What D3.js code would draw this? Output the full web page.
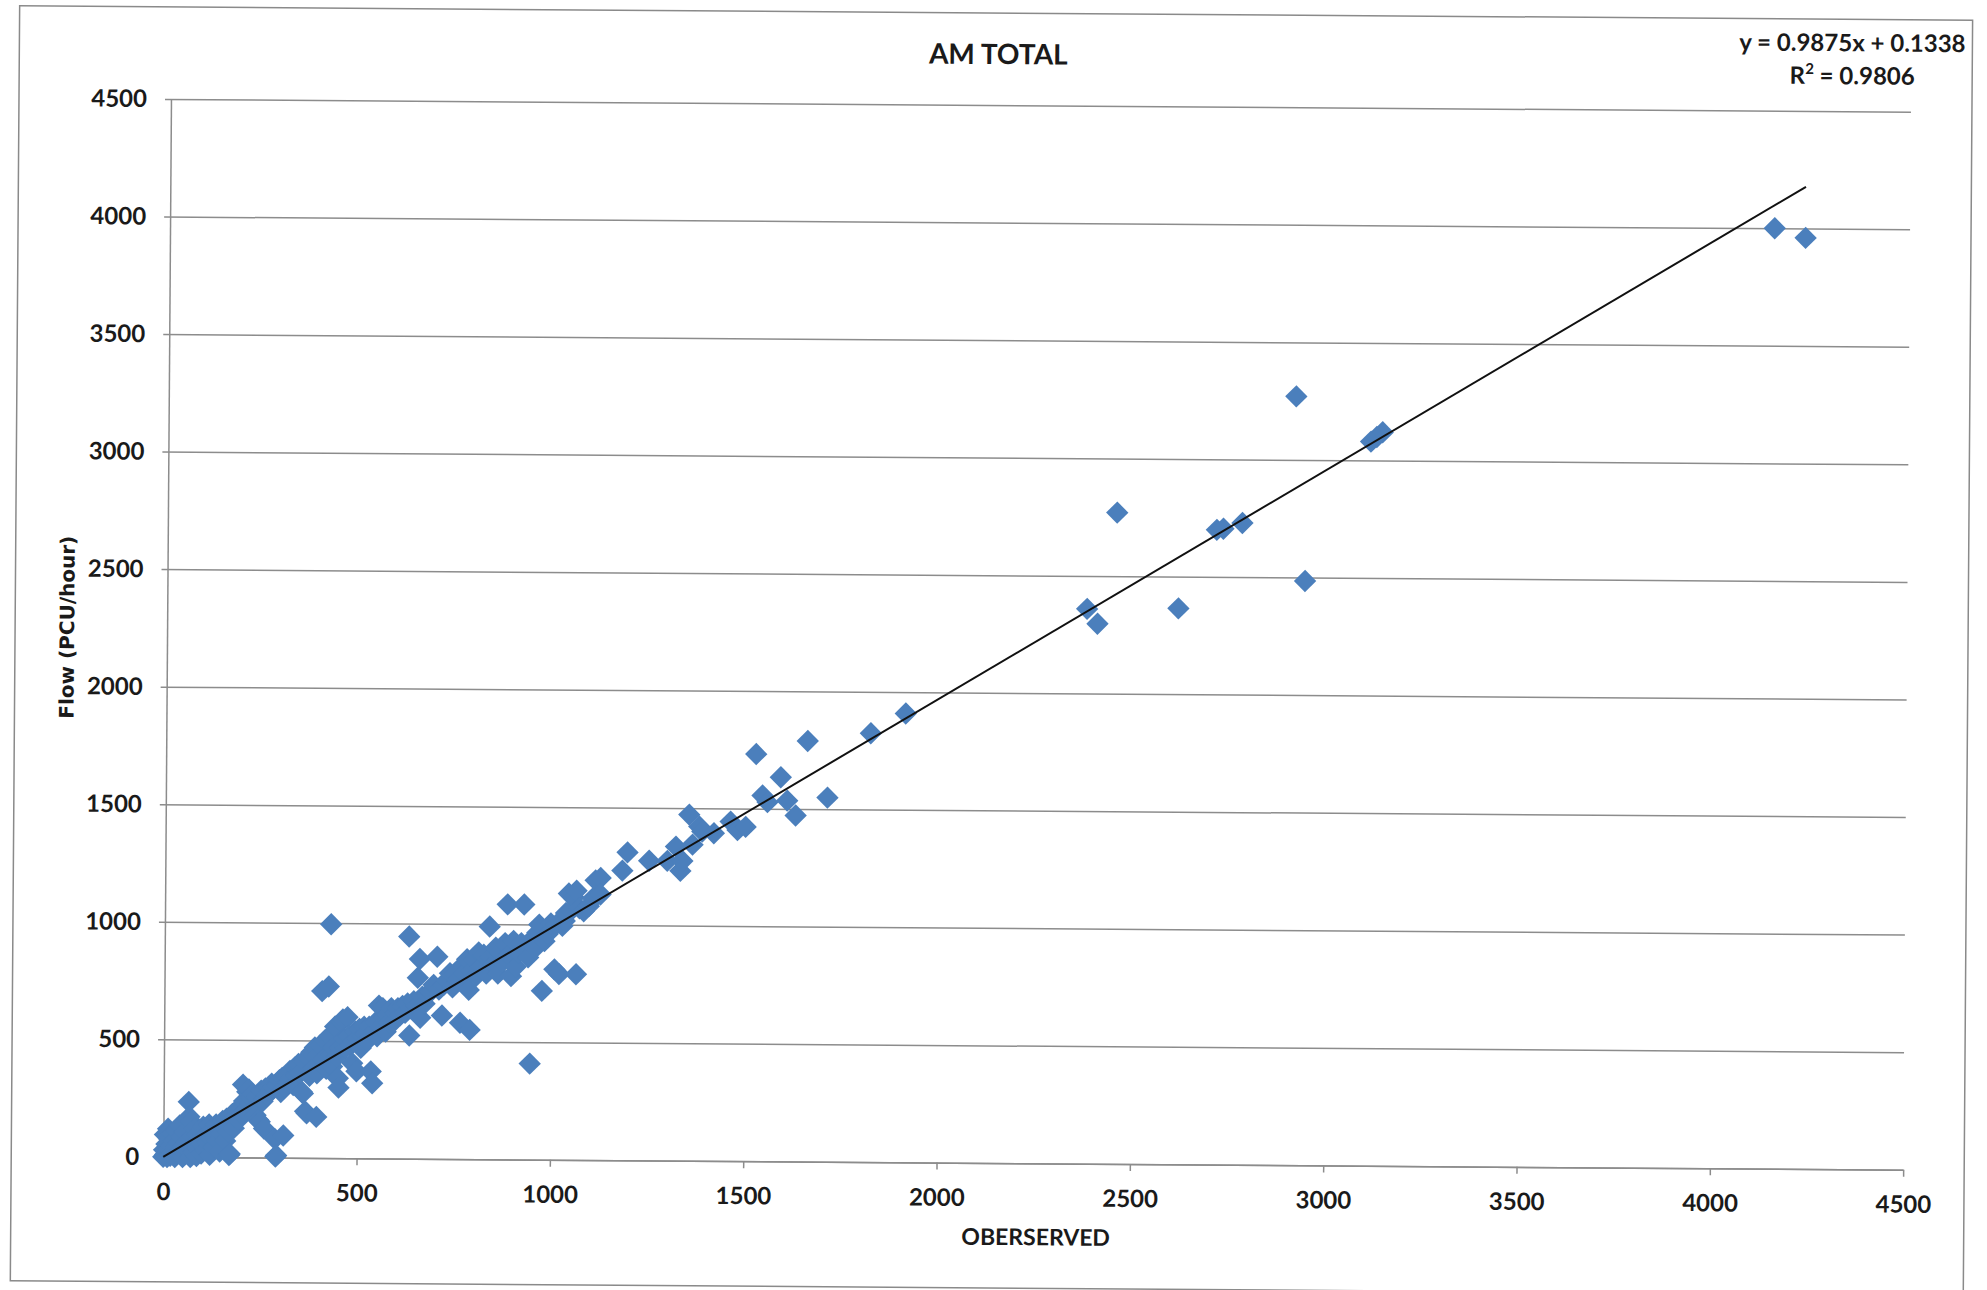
<!DOCTYPE html>
<html>
<head>
<meta charset="utf-8">
<script src="https://cdn.jsdelivr.net/npm/d3@7"></script>
<style>
  html, body { margin: 0; padding: 0; background: #fff; }
  svg { display: block; }
  .tick text { font-family: Lato, 'Open Sans', sans-serif; font-weight: 700; font-size: 24px; fill: #1a1a1a; }
</style>
</head>
<body>
<div id="chart"></div>
<script>
// observed vs modelled flow, [observed, modelled] in PCU/hour
const points = [
  [0, 0], [2, 30], [4, 95], [5, 10], [8, 55], [10, 0], [12, 120], [14, 35], [16, 75], [18, 5],
  [20, 50], [22, 100], [25, 20], [27, 70], [30, 0], [32, 40], [35, 110], [37, 15], [40, 60], [42, 135],
  [45, 25], [47, 85], [50, 0], [52, 45], [55, 105], [58, 15], [60, 65], [63, 30], [65, 235], [67, 172],
  [70, 0], [72, 151], [73, 50], [76, 90], [78, 20], [80, 120], [83, 60], [86, 5], [88, 95], [90, 35],
  [93, 75], [96, 110], [98, 15], [100, 55], [103, 130], [106, 85], [110, 30], [112, 100], [115, 65], [118, 140],
  [120, 10], [123, 80], [126, 115], [130, 45], [133, 95], [136, 140], [140, 70], [143, 120], [146, 25], [150, 100],
  [153, 155], [157, 130], [160, 70], [163, 165], [167, 110], [170, 10], [172, 15], [175, 150], [178, 185], [182, 125],
  [186, 175], [190, 200], [194, 160], [198, 215], [202, 185], [205, 310], [208, 240], [212, 200], [216, 280], [220, 290],
  [223, 230], [226, 255], [230, 270], [234, 210], [238, 180], [242, 260], [245, 160], [249, 153], [252, 285], [256, 240],
  [260, 124], [263, 295], [267, 265], [271, 300], [275, 280], [279, 315], [283, 300], [288, 80], [290, 5], [292, 10],
  [295, 310], [299, 330], [303, 280], [306, 340], [310, 95], [313, 300], [317, 345], [321, 320], [326, 370], [330, 340],
  [335, 310], [339, 385], [343, 350], [348, 400], [352, 360], [357, 282], [360, 275], [362, 410], [366, 198], [370, 190],
  [372, 430], [377, 350], [381, 450], [386, 380], [390, 470], [395, 175], [396, 360], [400, 440], [404, 480], [408, 710],
  [412, 420], [416, 500], [420, 380], [425, 730], [428, 520], [430, 995], [433, 440], [435, 390], [438, 470], [442, 560],
  [446, 430], [450, 340], [452, 300], [455, 470], [458, 580], [462, 590], [466, 510], [470, 470], [474, 600], [478, 520],
  [482, 480], [487, 405], [490, 500], [494, 540], [498, 370], [500, 510], [505, 550], [509, 470], [513, 520], [517, 560],
  [521, 530], [525, 500], [530, 560], [535, 370], [539, 320], [543, 540], [547, 580], [551, 520], [555, 650], [560, 560],
  [565, 640], [569, 600], [573, 540], [578, 610], [582, 580], [587, 640], [592, 580], [598, 620], [604, 640], [610, 610],
  [616, 650], [623, 620], [629, 660], [632, 945], [634, 524], [638, 640], [645, 670], [652, 650], [655, 770], [660, 850],
  [662, 600], [667, 690], [673, 660], [680, 700], [688, 710], [696, 740], [705, 860], [710, 720], [718, 610], [722, 740],
  [730, 760], [738, 790], [745, 730], [752, 790], [758, 760], [765, 580], [768, 820], [775, 790], [782, 850], [787, 720],
  [790, 550], [793, 800], [800, 850], [806, 780], [812, 880], [818, 820], [825, 870], [832, 790], [840, 990], [844, 860],
  [850, 830], [856, 900], [862, 790], [868, 880], [874, 840], [880, 920], [886, 1085], [890, 870], [896, 780], [902, 930],
  [908, 820], [915, 880], [922, 920], [929, 1085], [934, 890], [940, 860], [946, 408], [951, 940], [958, 900], [963, 965],
  [968, 1000], [976, 718], [982, 930], [990, 960], [998, 1005], [1008, 810], [1012, 1000], [1020, 790], [1028, 995], [1034, 1016],
  [1037, 1050], [1044, 1133], [1050, 1060], [1057, 1117], [1064, 1145], [1064, 790], [1072, 1070], [1083, 1058], [1096, 1080], [1106, 1113],
  [1113, 1190], [1119, 1129], [1126, 1200], [1126, 1130], [1182, 1232], [1195, 1310], [1251, 1275], [1298, 1275], [1320, 1336], [1332, 1233],
  [1337, 1275], [1354, 1472], [1363, 1345], [1380, 1422], [1388, 1401], [1418, 1394], [1461, 1444], [1479, 1408], [1500, 1422], [1526, 1732],
  [1543, 1556], [1556, 1528], [1590, 1634], [1607, 1535], [1629, 1472], [1659, 1789], [1711, 1549], [1822, 1824], [1912, 1909],
  [2379, 2360], [2406, 2297], [2455, 2770], [2615, 2365], [2713, 2700], [2730, 2705], [2779, 2730], [2916, 3270], [2942, 2485],
  [3110, 3080], [3125, 3100], [3140, 3120], [4150, 4000], [4230, 3960]
];

const xTicks = [0, 500, 1000, 1500, 2000, 2500, 3000, 3500, 4000, 4500];
const yTicks = [0, 500, 1000, 1500, 2000, 2500, 3000, 3500, 4000, 4500];

const slope = 0.9875;
const intercept = 0.1338;
const rSquared = 0.9806;

const titleText = 'AM TOTAL';
const xLabel = 'OBERSERVED';
const yLabel = 'Flow (PCU/hour)';

const W = 1987;
const H = 1290;
const margin = { top: 105, right: 80, bottom: 127, left: 167 };
const plotW = W - margin.left - margin.right;
const plotH = H - margin.top - margin.bottom;

const svg = d3
  .select('#chart')
  .append('svg')
  .attr('width', W)
  .attr('height', H);

svg.append('rect').attr('width', W).attr('height', H).attr('fill', '#fff');

// the scan is slightly tilted
const page = svg.append('g').attr('transform', 'rotate(0.42, 993.5, 645)');

page
  .append('rect')
  .attr('x', 15)
  .attr('y', 13)
  .attr('width', 1953)
  .attr('height', 1275)
  .attr('fill', 'none')
  .attr('stroke', '#8a8a8a')
  .attr('stroke-width', 1.5);

const g = page
  .append('g')
  .attr('transform', `translate(${margin.left},${margin.top})`);

const x = d3.scaleLinear().domain([0, 4500]).range([0, plotW]);
const y = d3.scaleLinear().domain([0, 4500]).range([plotH, 0]);

// gridlines + y labels
const yAxis = g
  .append('g')
  .attr('class', 'yaxis')
  .call(
    d3
      .axisLeft(y)
      .tickValues(yTicks)
      .tickFormat(d3.format('d'))
      .tickSizeInner(-plotW)
      .tickSizeOuter(0)
      .tickPadding(24)
  );
yAxis.select('.domain').attr('stroke', '#8c8c8c').attr('stroke-width', 1.5);
yAxis
  .selectAll('.tick line')
  .attr('x1', -6)
  .attr('stroke', '#8c8c8c')
  .attr('stroke-width', 1.5);

const xAxis = g
  .append('g')
  .attr('class', 'xaxis')
  .attr('transform', `translate(0,${plotH})`)
  .call(
    d3
      .axisBottom(x)
      .tickValues(xTicks)
      .tickFormat(d3.format('d'))
      .tickSizeInner(7)
      .tickSizeOuter(0)
      .tickPadding(19)
  );
xAxis.select('.domain').attr('stroke', '#8c8c8c').attr('stroke-width', 1.5);
xAxis.selectAll('.tick line').attr('stroke', '#8c8c8c').attr('stroke-width', 1.5);

// markers
g.append('g')
  .selectAll('path')
  .data(points)
  .enter()
  .append('path')
  .attr('d', d3.symbol(d3.symbolSquare, 250))
  .attr('transform', d => `translate(${x(d[0])},${y(d[1])}) rotate(45)`)
  .attr('fill', '#4b7fbc');

// linear trendline
const maxObs = d3.max(points, d => d[0]);
const trend = [0, maxObs].map(v => [v, slope * v + intercept]);
g.append('path')
  .datum(trend)
  .attr('d', d3.line().x(d => x(d[0])).y(d => y(d[1])))
  .attr('fill', 'none')
  .attr('stroke', '#111')
  .attr('stroke-width', 2);

// texts
page
  .append('text')
  .attr('x', 994)
  .attr('y', 64)
  .attr('text-anchor', 'middle')
  .style('font-family', 'Lato, sans-serif')
  .style('font-weight', 700)
  .style('font-size', '28px')
  .attr('fill', '#1a1a1a')
  .text(titleText);

const eq = page
  .append('text')
  .attr('text-anchor', 'middle')
  .style('font-family', 'Lato, sans-serif')
  .style('font-weight', 700)
  .style('font-size', '24px')
  .attr('fill', '#1a1a1a');
eq.append('tspan')
  .attr('x', 1848)
  .attr('y', 45)
  .text(`y = ${slope}x + ${intercept}`);
const r2 = eq.append('tspan').attr('x', 1848).attr('y', 78);
r2.append('tspan').text('R');
r2.append('tspan')
  .attr('dy', -10)
  .style('font-size', '15px')
  .text('2');
r2.append('tspan')
  .attr('dy', 10)
  .text(` = ${rSquared}`);

page
  .append('text')
  .attr('x', margin.left + plotW / 2 + 3)
  .attr('y', 1245)
  .attr('text-anchor', 'middle')
  .style('font-family', 'Lato, sans-serif')
  .style('font-weight', 700)
  .style('font-size', '23px')
  .attr('fill', '#1a1a1a')
  .text(xLabel);

page
  .append('text')
  .attr('transform', `translate(74,${margin.top + plotH / 2}) rotate(-90)`)
  .attr('text-anchor', 'middle')
  .style('font-family', "'DejaVu Sans', sans-serif")
  .style('font-weight', 700)
  .style('font-size', '20px')
  .attr('fill', '#1a1a1a')
  .text(yLabel);
</script>
</body>
</html>
